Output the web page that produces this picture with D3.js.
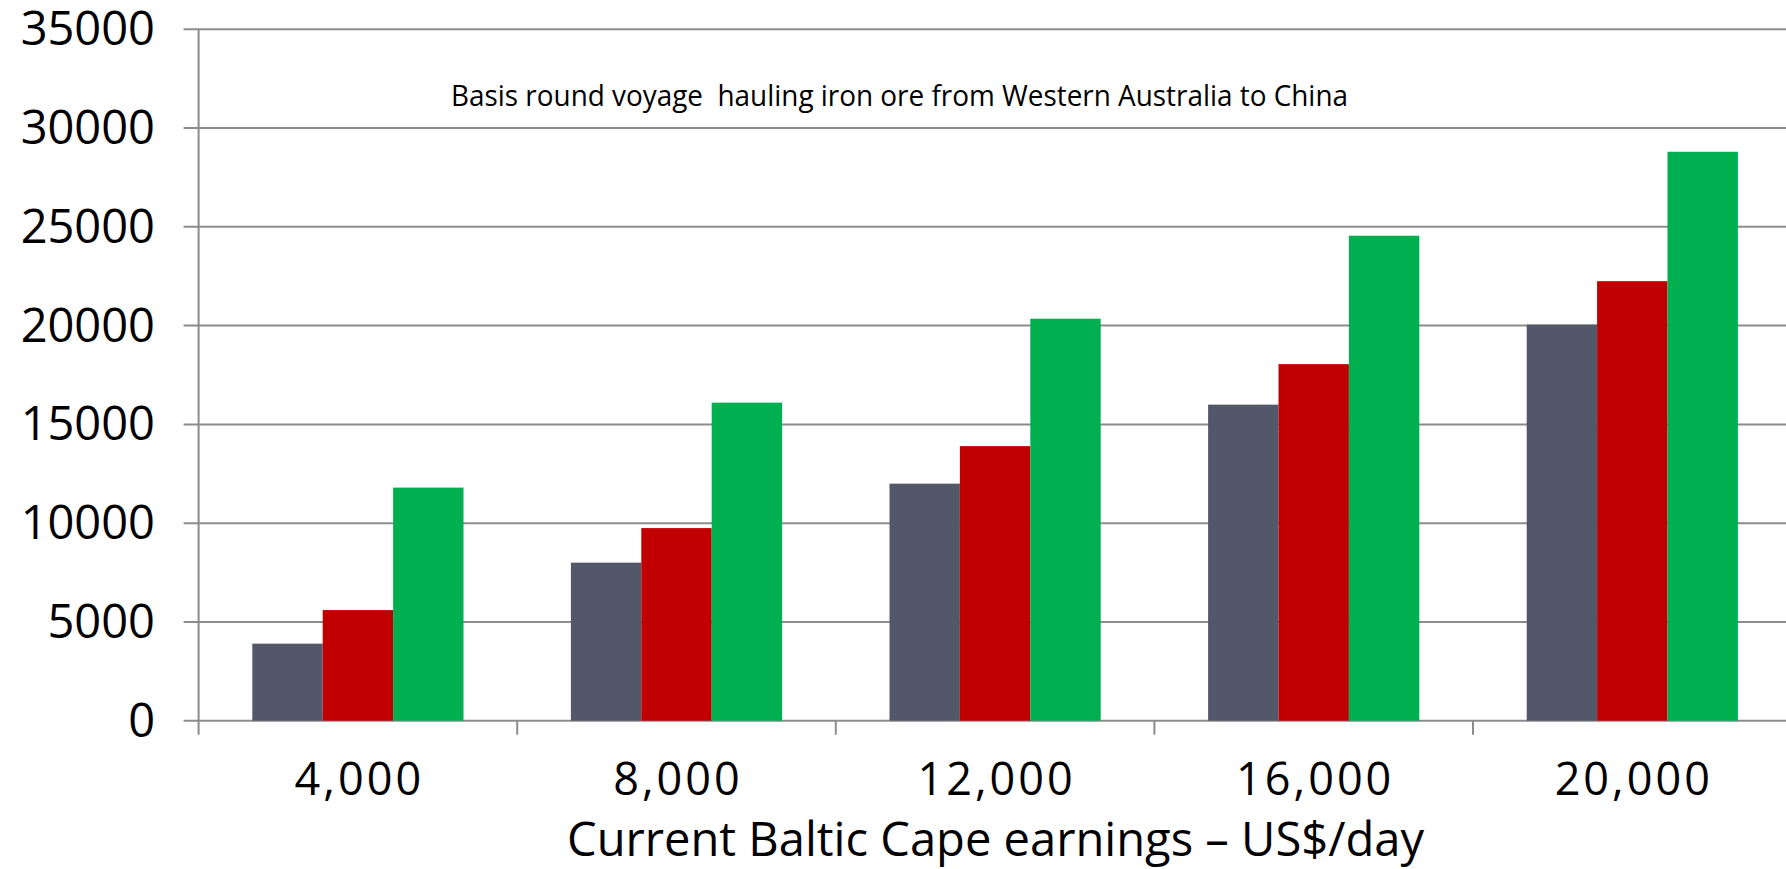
<!DOCTYPE html>
<html>
<head>
<meta charset="utf-8">
<script src="https://cdn.jsdelivr.net/npm/d3@7"></script>
<style>
  html, body { margin: 0; padding: 0; background: #fff; }
  svg { display: block; }
  text { font-family: "Open Sans", "Noto Sans", sans-serif; fill: #000; }
</style>
</head>
<body>
<svg id="chart" width="1786" height="869"></svg>
<script>
// Current Baltic Cape earnings (US$/day) on the category axis
const categories = ["4,000", "8,000", "12,000", "16,000", "20,000"];

// Three series per category (no legend is drawn)
const seriesKeys = ["current", "middle", "high"];
const seriesCurrent = [3900, 8000, 12000, 16000, 20050];
const seriesMiddle  = [5600, 9750, 13900, 18050, 22250];
const seriesHigh    = [11800, 16100, 20350, 24550, 28800];
const seriesColors  = ["#525869", "#C00000", "#00B050"];

// Value-axis ticks
const yTicks = [0, 5000, 10000, 15000, 20000, 25000, 30000, 35000];

const titleText = "Basis round voyage  hauling iron ore from Western Australia to China";
const xTitleText = "Current Baltic Cape earnings \u2013 US$/day";

(function draw() {
  const svg = d3.select("#chart");
  const W = 1786;

  // Plot frame
  const plotLeft = 198.6, plotTop = 29.3, plotBottom = 720.7;
  const step = 318.6;

  const x0 = d3.scaleBand()
    .domain(categories)
    .range([plotLeft, plotLeft + step * categories.length])
    .paddingInner(0)
    .paddingOuter(0);

  const groupPad = 53.7;
  const x1 = d3.scaleBand()
    .domain(seriesKeys)
    .range([groupPad, x0.bandwidth() - groupPad])
    .padding(0);

  const y = d3.scaleLinear().domain([0, 35000]).range([plotBottom, plotTop]);

  const lineColor = "#8c8c8c";

  // Horizontal gridlines with short outer ticks left of the axis
  svg.append("g").selectAll("line")
    .data(yTicks)
    .join("line")
    .attr("x1", plotLeft - 15)
    .attr("x2", W)
    .attr("y1", d => y(d))
    .attr("y2", d => y(d))
    .attr("stroke", lineColor)
    .attr("stroke-width", 2);

  // Vertical value axis line
  svg.append("line")
    .attr("x1", plotLeft).attr("x2", plotLeft)
    .attr("y1", y(35000)).attr("y2", plotBottom + 14)
    .attr("stroke", lineColor)
    .attr("stroke-width", 2);

  // Category boundary ticks below the baseline
  const boundaries = d3.range(1, categories.length).map(i => plotLeft + step * i);
  svg.append("g").selectAll("line")
    .data(boundaries)
    .join("line")
    .attr("x1", d => d).attr("x2", d => d)
    .attr("y1", plotBottom).attr("y2", plotBottom + 14)
    .attr("stroke", lineColor)
    .attr("stroke-width", 2);

  // Bars
  const rows = categories.map((c, i) => ({
    cat: c,
    values: [seriesCurrent[i], seriesMiddle[i], seriesHigh[i]]
  }));

  const groups = svg.append("g").selectAll("g")
    .data(rows)
    .join("g")
    .attr("transform", d => `translate(${x0(d.cat)},0)`);

  groups.selectAll("rect")
    .data(d => d.values.map((v, k) => ({ key: seriesKeys[k], value: v, color: seriesColors[k] })))
    .join("rect")
    .attr("x", d => x1(d.key))
    .attr("width", x1.bandwidth())
    .attr("y", d => y(d.value))
    .attr("height", d => y(0) - y(d.value))
    .attr("fill", d => d.color);

  // Value-axis labels
  svg.append("g").selectAll("text")
    .data(yTicks)
    .join("text")
    .attr("x", 155)
    .attr("y", d => y(d))
    .attr("dy", "0.34em")
    .attr("text-anchor", "end")
    .style("font-size", "47px")
    .text(d => d);

  // Category labels
  svg.append("g").selectAll("text")
    .data(categories)
    .join("text")
    .attr("x", d => x0(d) + x0.bandwidth() / 2 + 1.5)
    .attr("y", 795)
    .attr("text-anchor", "middle")
    .style("font-size", "45px")
    .style("letter-spacing", "3px")
    .text(d => d);

  // In-plot note (keeps its double space)
  svg.append("text")
    .attr("x", 451)
    .attr("y", 106)
    .style("font-size", "29px")
    .style("white-space", "pre")
    .attr("textLength", 897)
    .attr("lengthAdjust", "spacingAndGlyphs")
    .text(titleText);

  // Category-axis title
  svg.append("text")
    .attr("x", 567)
    .attr("y", 856)
    .style("font-size", "48px")
    .attr("textLength", 857)
    .attr("lengthAdjust", "spacingAndGlyphs")
    .text(xTitleText);
})();
</script>
</body>
</html>
